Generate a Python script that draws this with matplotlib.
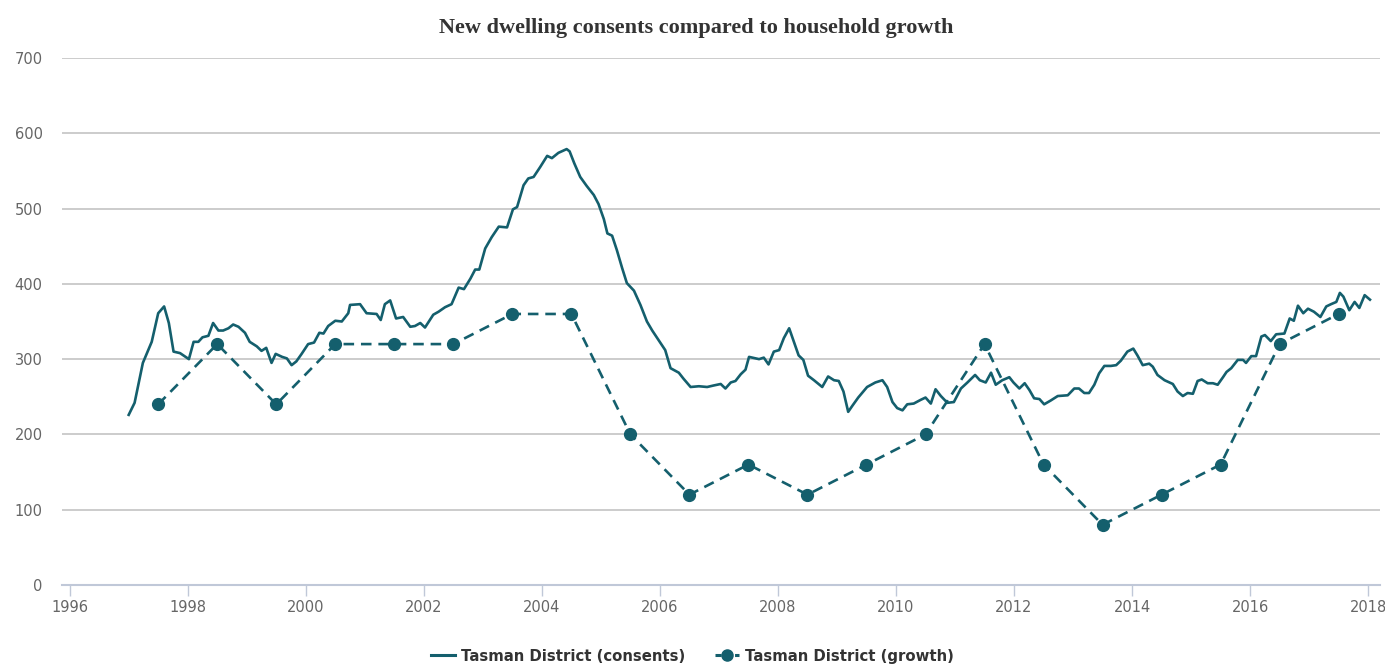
import matplotlib.pyplot as plt
from matplotlib.lines import Line2D

# consents (decimal year, value)
cons_x = [1997.00, 1997.10, 1997.24, 1997.39, 1997.50, 1997.60, 1997.68, 1997.76, 1997.87, 1998.02,
          1998.10, 1998.18, 1998.25, 1998.35, 1998.43, 1998.52, 1998.60, 1998.69, 1998.77, 1998.86,
          1998.97, 1999.05, 1999.17, 1999.25, 1999.33, 1999.42, 1999.49, 1999.60, 1999.68, 1999.76,
          1999.84, 1999.93, 2000.04, 2000.14, 2000.23, 2000.30, 2000.38, 2000.50, 2000.61, 2000.72,
          2000.75, 2000.92, 2001.03, 2001.20, 2001.27, 2001.34, 2001.43, 2001.53, 2001.65, 2001.77,
          2001.85, 2001.94, 2002.02, 2002.16, 2002.25, 2002.36, 2002.47, 2002.59, 2002.68, 2002.79,
          2002.87, 2002.94, 2003.04, 2003.15, 2003.27, 2003.41, 2003.51, 2003.58, 2003.69, 2003.77,
          2003.86, 2003.97, 2004.09, 2004.17, 2004.28, 2004.42, 2004.47, 2004.55, 2004.65, 2004.76,
          2004.88, 2004.96, 2005.05, 2005.11, 2005.19, 2005.27, 2005.36, 2005.44, 2005.56, 2005.67,
          2005.78, 2005.87, 2005.98, 2006.09, 2006.18, 2006.32, 2006.40, 2006.52, 2006.66, 2006.80,
          2006.91, 2007.03, 2007.11, 2007.20, 2007.28, 2007.37, 2007.45, 2007.51, 2007.68, 2007.76,
          2007.84, 2007.93, 2008.02, 2008.10, 2008.19, 2008.27, 2008.35, 2008.43, 2008.51, 2008.61,
          2008.75, 2008.85, 2008.95, 2009.03, 2009.11, 2009.19, 2009.26, 2009.36, 2009.51, 2009.65,
          2009.77, 2009.85, 2009.94, 2010.02, 2010.11, 2010.19, 2010.30, 2010.42, 2010.50, 2010.59,
          2010.67, 2010.76, 2010.87, 2010.98, 2011.10, 2011.21, 2011.34, 2011.42, 2011.52, 2011.61,
          2011.69, 2011.80, 2011.92, 2011.99, 2012.09, 2012.18, 2012.26, 2012.34, 2012.43, 2012.51,
          2012.62, 2012.74, 2012.91, 2013.02, 2013.10, 2013.19, 2013.27, 2013.36, 2013.44, 2013.53,
          2013.64, 2013.73, 2013.81, 2013.92, 2014.02, 2014.09, 2014.18, 2014.29, 2014.35, 2014.43,
          2014.55, 2014.69, 2014.77, 2014.86, 2014.94, 2015.03, 2015.11, 2015.18, 2015.28, 2015.37,
          2015.45, 2015.54, 2015.60, 2015.68, 2015.79, 2015.88, 2015.93, 2016.02, 2016.10, 2016.19,
          2016.25, 2016.35, 2016.44, 2016.58, 2016.67, 2016.74, 2016.81, 2016.90, 2016.98, 2017.08,
          2017.19, 2017.29, 2017.37, 2017.46, 2017.52, 2017.58, 2017.68, 2017.77, 2017.85, 2017.94,
          2018.03]
cons_y = [226, 242, 295, 323, 361, 370, 348, 310, 308, 300,
          323, 323, 329, 331, 348, 338, 338, 341, 346, 343,
          335, 323, 317, 311, 315, 295, 307, 303, 301, 292,
          297, 307, 320, 322, 335, 334, 344, 351, 350, 361,
          372, 373, 361, 360, 352, 373, 378, 354, 356, 343,
          344, 348, 342, 359, 363, 369, 373, 395, 393, 407,
          419, 419, 447, 462, 476, 475, 499, 502, 531, 540,
          542, 555, 570, 567, 574, 579, 576, 560, 542, 530,
          518, 506, 486, 467, 464, 445, 421, 401, 391, 372,
          350, 338, 325, 312, 288, 282, 274, 263, 264, 263,
          265, 267, 261, 269, 271, 280, 286, 303, 300, 302,
          293, 310, 312, 328, 341, 323, 305, 299, 278, 272,
          263, 277, 272, 271, 257, 230, 238, 249, 263, 269,
          272, 263, 243, 235, 232, 240, 241, 246, 249, 241,
          260, 251, 242, 243, 261, 269, 279, 272, 269, 282,
          266, 272, 276, 269, 261, 268, 259, 248, 247, 240,
          245, 251, 252, 261, 261, 255, 255, 266, 281, 291,
          291, 292, 298, 310, 314, 305, 292, 294, 290, 279,
          272, 267, 257, 251, 255, 254, 271, 273, 268, 268,
          266, 276, 283, 288, 299, 299, 295, 304, 304, 330,
          332, 324, 333, 334, 354, 351, 371, 361, 367, 363,
          356, 370, 373, 376, 388, 383, 365, 376, 368, 385,
          379]

# household growth, mid-year points
grow_x = [1997.5, 1998.5, 1999.5, 2000.5, 2001.5, 2002.5, 2003.5, 2004.5, 2005.5, 2006.5, 2007.5,
          2008.5, 2009.5, 2010.5, 2011.5, 2012.5, 2013.5, 2014.5, 2015.5, 2016.5, 2017.5]
grow_y = [240, 320, 240, 320, 320, 320, 360, 360, 200, 120, 160,
          120, 160, 200, 320, 160, 80, 120, 160, 320, 360]

title = 'New dwelling consents compared to household growth'
lab_cons = 'Tasman District (consents)'
lab_grow = 'Tasman District (growth)'

teal = '#145f6d'
tickfont = ['Liberation Sans Narrow', 'DejaVu Sans']

fig = plt.figure(figsize=(13.85, 6.66), dpi=100)
ax = fig.add_axes([62/1385, 81/666, 1318/1385, 527/666])

ax.plot(cons_x, cons_y, color=teal, lw=1.9, solid_joinstyle='round', zorder=3)
ax.plot(grow_x, grow_y, color=teal, lw=1.9, dashes=(4, 2.6), marker='o', ms=8.5, zorder=3)

ax.set_xlim(1995.87, 2018.2)
ax.set_ylim(0, 700)
ax.set_xticks(range(1996, 2019, 2))
ax.set_yticks(range(0, 701, 100))
ax.yaxis.grid(True, color='#c4c4c4', lw=1.2)
ax.set_axisbelow(True)
for s in ['top', 'right', 'left']:
    ax.spines[s].set_visible(False)
ax.spines['bottom'].set_color('#c0c8d8')
ax.spines['bottom'].set_linewidth(1.5)
ax.tick_params(axis='y', length=0, pad=14, labelsize=10.5, labelcolor='#666666')
ax.tick_params(axis='x', length=8, width=1, color='#c0c8d8', pad=3, labelsize=10.5, labelcolor='#666666')
for t in ax.get_xticklabels() + ax.get_yticklabels():
    t.set_family(tickfont)

fig.text(0.503, 0.958, title, ha='center', va='center', fontsize=16,
         fontweight='bold', family=['Liberation Serif', 'DejaVu Serif'], color='#333333')

handles = [Line2D([], [], color=teal, lw=2.2),
           Line2D([], [], color=teal, lw=2.2, dashes=(2, 1.2), marker='o', ms=8)]
fig.legend(handles, [lab_cons, lab_grow], loc='center', bbox_to_anchor=(0.5, 0.015),
           ncol=2, frameon=False, handlelength=1.6, handletextpad=0.4, columnspacing=2.0,
           prop={'family': tickfont, 'size': 10.7, 'weight': 'bold'}, labelcolor='#333333')

fig.savefig('out.png', dpi=100)
